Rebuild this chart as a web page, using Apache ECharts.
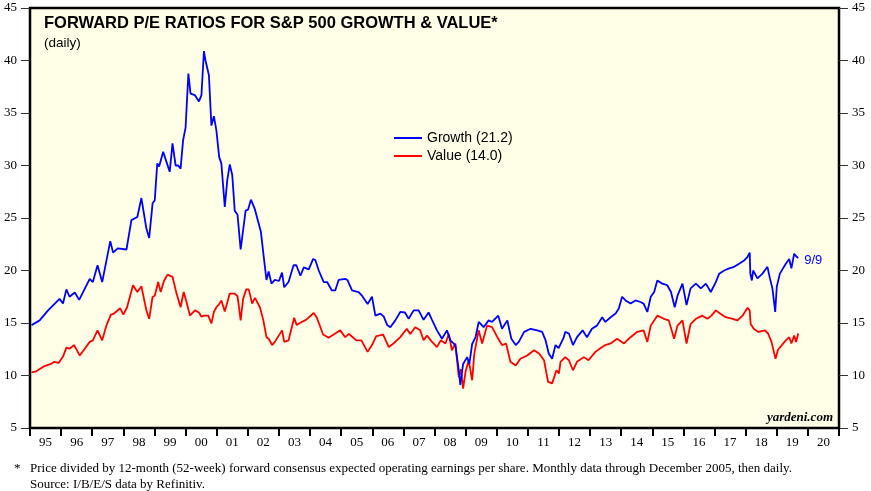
<!DOCTYPE html>
<html>
<head>
<meta charset="utf-8">
<script src="https://cdn.jsdelivr.net/npm/echarts@6/dist/echarts.min.js"></script>
<style>
  html, body { margin: 0; padding: 0; background: #fff; }
  #main { width: 871px; height: 491px; }
</style>
</head>
<body>
<div id="main"></div>
<script>
// year labels under the x axis
var yearLabels = ['95','96','97','98','99','00','01','02','03','04','05','06','07','08','09','10','11','12','13','14','15','16','17','18','19','20'];

// S&P 500 Growth forward P/E (x in decimal years)
var growthYears = [1995.05,1995.31,1995.58,1995.95,1996.06,1996.17,1996.27,1996.44,1996.58,1996.92,1997.02,1997.17,1997.32,1997.58,1997.67,1997.82,1998.10,1998.26,1998.45,1998.58,1998.74,1998.83,1998.94,1999.01,1999.09,1999.15,1999.28,1999.33,1999.49,1999.58,1999.68,1999.76,1999.84,1999.92,2000.00,2000.09,2000.16,2000.30,2000.43,2000.51,2000.59,2000.64,2000.75,2000.83,2000.91,2000.99,2001.08,2001.15,2001.26,2001.34,2001.42,2001.50,2001.58,2001.67,2001.77,2001.93,2002.01,2002.10,2002.22,2002.42,2002.50,2002.60,2002.67,2002.76,2002.87,2003.00,2003.10,2003.17,2003.31,2003.47,2003.56,2003.69,2003.80,2003.96,2004.10,2004.17,2004.28,2004.44,2004.55,2004.70,2004.81,2004.92,2005.13,2005.20,2005.35,2005.56,2005.67,2005.85,2005.99,2006.10,2006.26,2006.37,2006.48,2006.58,2006.74,2006.90,2007.05,2007.17,2007.33,2007.49,2007.65,2007.81,2007.92,2008.08,2008.24,2008.40,2008.51,2008.67,2008.78,2008.83,2008.92,2009.05,2009.12,2009.21,2009.32,2009.42,2009.58,2009.74,2009.85,2010.05,2010.17,2010.34,2010.47,2010.61,2010.71,2010.88,2011.09,2011.30,2011.46,2011.57,2011.67,2011.78,2011.89,2011.99,2012.15,2012.20,2012.32,2012.45,2012.58,2012.76,2012.90,2013.06,2013.22,2013.39,2013.49,2013.66,2013.82,2013.92,2014.03,2014.14,2014.30,2014.46,2014.62,2014.72,2014.84,2014.95,2015.06,2015.16,2015.32,2015.48,2015.60,2015.72,2015.81,2015.97,2016.10,2016.23,2016.40,2016.56,2016.72,2016.88,2017.04,2017.15,2017.31,2017.47,2017.63,2017.79,2017.95,2018.06,2018.13,2018.15,2018.20,2018.24,2018.38,2018.54,2018.70,2018.78,2018.86,2018.95,2019.00,2019.10,2019.29,2019.40,2019.47,2019.56,2019.64,2019.69];
var growthPE = [14.8,15.25,16.2,17.3,16.85,18.2,17.5,17.9,17.2,19.2,18.9,20.5,18.9,22.8,21.7,22.1,22.0,24.8,25.1,26.9,24.0,23.1,26.4,26.7,30.2,29.9,31.3,31.3,29.4,32.1,30.0,30.0,29.7,32.4,33.6,38.75,36.85,36.7,36.1,36.7,40.9,40.0,38.6,33.8,34.7,33.35,30.8,30.2,26.05,28.6,30.1,29.1,25.7,25.3,22.0,25.7,25.8,26.75,25.9,23.7,21.6,19.1,19.9,18.75,19.1,19.0,19.8,18.4,18.9,20.5,20.5,19.5,20.3,20.1,21.1,21.0,20.0,18.9,18.9,18.1,18.1,19.1,19.2,19.1,18.1,17.95,17.6,16.8,17.5,15.7,15.9,15.6,14.8,14.6,15.25,16.05,16.0,15.4,16.2,16.2,15.3,16.0,15.3,14.3,13.5,14.3,13.35,12.9,10.5,9.1,11.1,11.75,11.1,13.0,13.65,15.1,14.6,15.25,15.1,15.7,14.45,15.25,13.5,12.9,13.2,14.15,14.45,14.3,14.15,13.35,12.1,11.6,12.9,12.6,13.6,14.15,14.0,12.9,13.65,14.3,13.65,14.45,14.75,15.55,15.1,15.55,15.9,16.35,17.5,17.15,16.85,17.15,17.0,16.85,16.05,17.5,17.95,19.05,18.75,18.6,17.95,16.5,17.6,18.75,16.7,18.3,18.75,18.3,18.75,17.95,18.9,19.7,20.0,20.2,20.35,20.65,20.95,21.3,21.7,19.7,19.05,20.0,19.25,19.7,20.35,19.25,18.3,16.05,18.45,19.7,20.65,21.1,20.2,21.6,21.3,21.2];

// S&P 500 Value forward P/E
var valueYears = [1995.05,1995.20,1995.47,1995.67,1995.78,1995.92,1996.06,1996.17,1996.27,1996.42,1996.60,1996.76,1996.92,1997.02,1997.17,1997.32,1997.46,1997.60,1997.70,1997.90,1998.00,1998.12,1998.31,1998.45,1998.58,1998.74,1998.83,1998.94,1999.01,1999.12,1999.20,1999.31,1999.42,1999.58,1999.71,1999.84,1999.94,2000.03,2000.14,2000.30,2000.43,2000.51,2000.59,2000.73,2000.83,2000.91,2000.99,2001.08,2001.15,2001.26,2001.42,2001.58,2001.67,2001.77,2001.85,2001.95,2002.03,2002.14,2002.23,2002.39,2002.50,2002.60,2002.67,2002.78,2002.87,2003.10,2003.17,2003.31,2003.49,2003.57,2003.73,2003.87,2004.12,2004.22,2004.42,2004.60,2004.76,2004.97,2005.13,2005.25,2005.49,2005.65,2005.85,2005.99,2006.13,2006.35,2006.53,2006.68,2006.90,2007.11,2007.22,2007.38,2007.54,2007.65,2007.76,2007.92,2008.08,2008.20,2008.35,2008.46,2008.56,2008.67,2008.78,2008.85,2008.92,2009.00,2009.10,2009.21,2009.28,2009.42,2009.53,2009.69,2009.85,2010.02,2010.17,2010.30,2010.44,2010.61,2010.76,2010.98,2011.20,2011.36,2011.52,2011.65,2011.78,2011.92,2012.00,2012.05,2012.20,2012.32,2012.45,2012.58,2012.80,2012.95,2013.17,2013.33,2013.49,2013.66,2013.87,2014.09,2014.30,2014.51,2014.72,2014.84,2014.95,2015.16,2015.37,2015.53,2015.70,2015.81,2015.97,2016.10,2016.23,2016.40,2016.61,2016.77,2016.90,2017.04,2017.20,2017.36,2017.58,2017.74,2017.90,2018.06,2018.13,2018.16,2018.26,2018.41,2018.62,2018.72,2018.83,2018.96,2019.04,2019.29,2019.40,2019.47,2019.56,2019.62,2019.69];
var valuePE = [10.3,10.4,10.9,11.1,11.3,11.2,11.8,12.65,12.55,12.9,11.9,12.55,13.2,13.35,14.3,13.35,14.8,15.8,15.9,16.4,15.8,16.5,18.6,17.95,18.5,16.2,15.4,17.5,17.6,18.9,17.95,19.05,19.6,19.4,17.8,16.5,17.95,17.0,15.7,16.2,16.0,15.6,15.7,15.7,14.95,16.05,16.5,16.8,17.15,16.1,17.8,17.8,17.55,15.25,17.3,18.2,18.2,16.85,17.4,16.5,15.25,13.65,13.5,12.9,13.2,14.3,13.2,13.35,15.5,14.8,15.1,15.3,15.95,15.5,13.9,13.6,13.9,14.3,13.65,13.95,13.35,13.35,12.25,12.9,13.75,13.9,12.7,13.05,13.65,14.45,13.95,14.6,14.3,13.35,13.8,13.2,12.7,13.35,13.05,13.95,12.4,13.05,9.85,10.6,8.75,10.4,11.45,9.55,12.1,14.3,13.05,14.75,14.6,13.65,12.9,13.05,11.3,10.95,11.6,11.9,12.4,12.1,11.45,9.4,9.25,10.5,10.2,11.3,11.75,11.45,10.5,11.3,11.75,11.45,12.25,12.6,12.9,13.05,13.5,13.05,13.65,14.15,14.3,13.2,14.75,15.7,15.4,15.25,13.5,14.75,15.25,13.05,14.9,15.4,15.7,15.4,15.7,16.2,15.85,15.55,15.4,15.25,15.7,16.45,16.2,14.9,14.45,14.15,14.3,14.0,13.2,11.6,12.45,13.35,13.65,13.05,13.8,13.2,14.0];

function pairs(xs, ys) {
    var out = [];
    for (var i = 0; i < xs.length; i++) out.push([xs[i], ys[i]]);
    return out;
}

var serif = '"Liberation Serif", "DejaVu Serif", serif';
var sans = '"Liberation Sans", Arial, sans-serif';

var myChart = echarts.init(document.getElementById('main'));

var yAxisBase = {
    type: 'value',
    min: 5,
    max: 45,
    interval: 5,
    splitLine: { show: false },
    axisLine: { show: false },
    axisTick: { show: true, length: 9, lineStyle: { color: '#333', width: 1 } },
    axisLabel: { fontFamily: serif, fontSize: 13, color: '#000', margin: 13 }
};

var option = {
    animation: false,
    backgroundColor: '#ffffff',
    title: [
        {
            text: 'FORWARD P/E RATIOS FOR S&P 500 GROWTH & VALUE*',
            left: 39, top: 10,
            textStyle: { fontFamily: sans, fontWeight: 'bold', fontSize: 16.5, color: '#000' }
        },
        {
            text: '(daily)',
            left: 39, top: 31,
            textStyle: { fontFamily: sans, fontWeight: 'normal', fontSize: 13.5, color: '#000' }
        }
    ],
    legend: {
        orient: 'vertical',
        left: 389, top: 126,
        itemWidth: 28, itemHeight: 2, itemGap: 4,
        icon: 'rect',
        textStyle: { fontFamily: sans, fontSize: 14, color: '#000' },
        data: ['Growth (21.2)', 'Value (14.0)']
    },
    grid: {
        left: 30, top: 8, width: 809, height: 420,
        show: true,
        backgroundColor: '#fffee6',
        borderColor: '#000',
        borderWidth: 2.5
    },
    xAxis: [
        {
            type: 'value',
            min: 1995, max: 2021,
            show: false
        },
        {
            type: 'category',
            position: 'bottom',
            data: yearLabels,
            boundaryGap: true,
            axisLine: { show: false },
            axisTick: { show: true, length: 8, lineStyle: { color: '#000', width: 2 } },
            axisLabel: { fontFamily: serif, fontSize: 13, color: '#000', margin: 8 },
            splitLine: { show: false }
        }
    ],
    yAxis: [
        echarts.util.merge({ position: 'left' }, yAxisBase, true),
        echarts.util.merge({ position: 'right' }, yAxisBase, true)
    ],
    graphic: [
        {
            type: 'text', right: 38, top: 411,
            style: { text: 'yardeni.com', font: 'italic bold 13px ' + serif, fill: '#000' }
        },
        {
            type: 'text', left: 14, top: 462,
            style: { text: '*', font: '13px ' + serif, fill: '#000' }
        },
        {
            type: 'text', left: 30, top: 462,
            style: { text: 'Price divided by 12-month (52-week) forward consensus expected operating earnings per share. Monthly data through December 2005, then daily.', font: '13px ' + serif, fill: '#000' }
        },
        {
            type: 'text', left: 30, top: 478,
            style: { text: 'Source: I/B/E/S data by Refinitiv.', font: '13px ' + serif, fill: '#000' }
        }
    ],
    series: [
        {
            name: 'Value (14.0)',
            type: 'line',
            xAxisIndex: 0,
            yAxisIndex: 0,
            symbol: 'none',
            lineStyle: { color: '#ff0000', width: 1.8 },
            itemStyle: { color: '#ff0000' },
            data: pairs(valueYears, valuePE)
        },
        {
            name: 'Growth (21.2)',
            type: 'line',
            xAxisIndex: 0,
            yAxisIndex: 0,
            symbol: 'none',
            lineStyle: { color: '#0000ff', width: 1.8 },
            itemStyle: { color: '#0000ff' },
            endLabel: {
                show: true,
                formatter: '9/9',
                color: '#0000ff',
                fontFamily: sans,
                fontSize: 13,
                distance: 6,
                offset: [0, 3]
            },
            data: pairs(growthYears, growthPE)
        }
    ]
};

myChart.setOption(option);
</script>
</body>
</html>
